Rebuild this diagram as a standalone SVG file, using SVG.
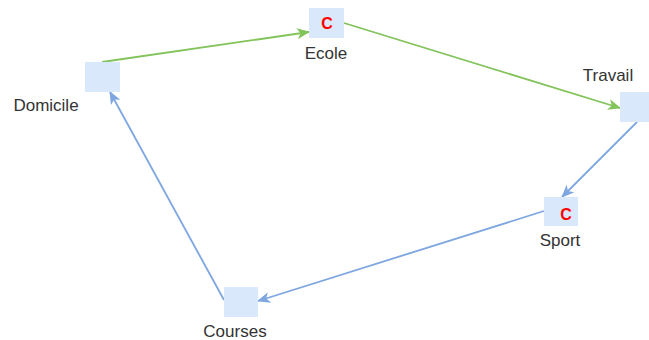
<svg xmlns="http://www.w3.org/2000/svg" width="649" height="340" viewBox="0 0 649 340">
<style>
.box{fill:#dae8fc;stroke:none}
.lbl{font-family:"Liberation Sans",Arial,sans-serif;font-size:17px;fill:#333333;text-anchor:middle}
.c{font-family:"Liberation Sans",Arial,sans-serif;font-size:16px;font-weight:bold;fill:#ff0000;text-anchor:middle}
.g{stroke:#82c35a;stroke-width:1.8;fill:none}
.b{stroke:#7ea6e0;stroke-width:1.8;fill:none}
</style>
<defs>
<marker id="ag" viewBox="0 0 13 11" refX="12" refY="5.5" markerWidth="13" markerHeight="11" markerUnits="userSpaceOnUse" orient="auto">
<path d="M0,0 L13,5.5 L0,11 L3.5,5.5 Z" fill="#82c35a"/>
</marker>
<marker id="ab" viewBox="0 0 13 11" refX="12" refY="5.5" markerWidth="13" markerHeight="11" markerUnits="userSpaceOnUse" orient="auto">
<path d="M0,0 L13,5.5 L0,11 L3.5,5.5 Z" fill="#7ea6e0"/>
</marker>
</defs>
<g id="connectors">
<line class="g" x1="102" y1="62" x2="309" y2="32" marker-end="url(#ag)"/>
<line class="g" x1="344" y1="23" x2="620" y2="108" marker-end="url(#ag)"/>
<line class="b" x1="637" y1="122" x2="562" y2="197" marker-end="url(#ab)"/>
<line class="b" x1="544" y1="211" x2="258" y2="301" marker-end="url(#ab)"/>
<line class="b" x1="224" y1="300" x2="110" y2="92" marker-end="url(#ab)"/>
</g>
<g id="domicile">
<rect class="box" x="85" y="62" width="35" height="30"/>
<text class="lbl" x="46" y="111">Domicile</text>
</g>
<g id="ecole">
<rect class="box" x="309" y="8" width="35" height="30"/>
<text class="c" x="327" y="29">C</text>
<text class="lbl" x="326" y="59">Ecole</text>
</g>
<g id="travail">
<rect class="box" x="620" y="92" width="32" height="30"/>
<text class="lbl" x="608" y="81">Travail</text>
</g>
<g id="sport">
<rect class="box" x="544" y="197" width="34" height="29"/>
<text class="c" x="566" y="220">C</text>
<text class="lbl" x="560" y="246">Sport</text>
</g>
<g id="courses">
<rect class="box" x="224" y="287" width="34" height="30"/>
<text class="lbl" x="235" y="337">Courses</text>
</g>
</svg>
